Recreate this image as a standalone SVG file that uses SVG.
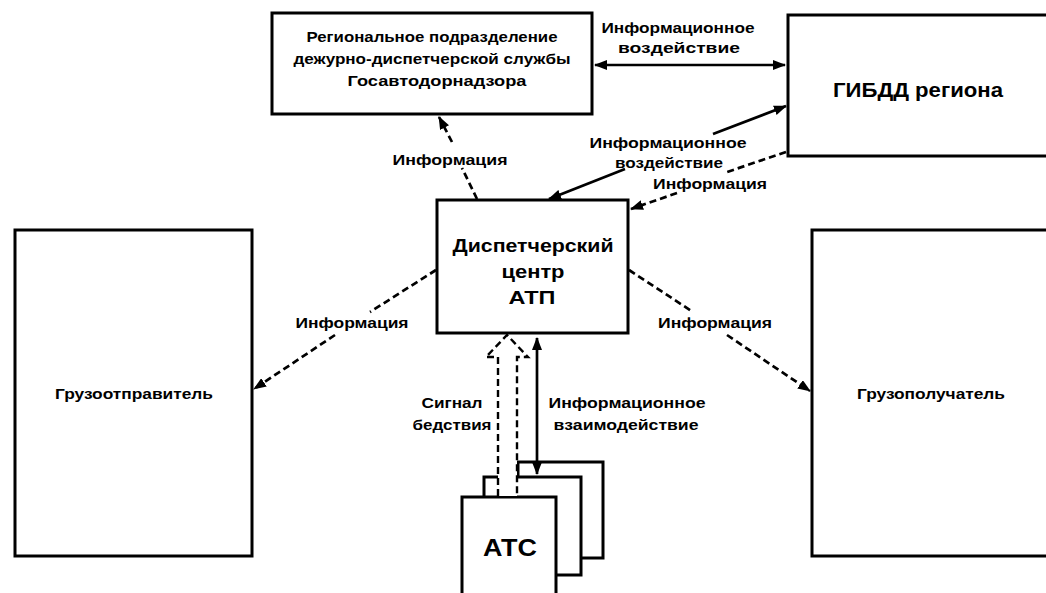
<svg xmlns="http://www.w3.org/2000/svg" width="1046" height="593" viewBox="0 0 1046 593">
<style>
.box{fill:#fff;stroke:#000;stroke-width:3}
.t{font-family:"Liberation Sans",Arial,sans-serif;font-weight:bold;text-anchor:middle;fill:#000}
.s{font-size:14px}
.m{font-size:15px}
.solid{stroke:#000;stroke-width:2.7;fill:none}
.dash{stroke:#000;stroke-width:2.7;fill:none;stroke-dasharray:7 4}
</style>
<defs>
<marker id="ah" markerUnits="userSpaceOnUse" markerWidth="13" markerHeight="10" refX="12" refY="5" orient="auto-start-reverse">
<path d="M0,0 L13,5 L0,10 z" fill="#000"/>
</marker>
</defs>
<rect width="1046" height="593" fill="#fff"/>

<g id="node-regional">
<rect class="box" x="272" y="13" width="320" height="101"/>
<text class="t s" x="432" y="42" textLength="251" lengthAdjust="spacingAndGlyphs">Региональное подразделение</text>
<text class="t s" x="432" y="64" textLength="277" lengthAdjust="spacingAndGlyphs">дежурно-диспетчерской службы</text>
<text class="t s" x="437" y="86" textLength="179" lengthAdjust="spacingAndGlyphs">Госавтодорнадзора</text>
</g>

<g id="node-gibdd">
<rect class="box" x="788" y="15" width="270" height="141"/>
<text class="t" style="font-size:20px" x="918" y="97" textLength="170" lengthAdjust="spacingAndGlyphs">ГИБДД региона</text>
</g>

<g id="node-center">
<rect class="box" x="437" y="200" width="191" height="133"/>
<text class="t" style="font-size:19px" x="533" y="252" textLength="161" lengthAdjust="spacingAndGlyphs">Диспетчерский</text>
<text class="t" style="font-size:19px" x="533" y="278" textLength="63" lengthAdjust="spacingAndGlyphs">центр</text>
<text class="t" style="font-size:19px" x="532" y="304" textLength="47" lengthAdjust="spacingAndGlyphs">АТП</text>
</g>

<g id="node-sender">
<rect class="box" x="15" y="230" width="237" height="326"/>
<text class="t m" x="134" y="399" textLength="158" lengthAdjust="spacingAndGlyphs">Грузоотправитель</text>
</g>

<g id="node-receiver">
<rect class="box" x="812" y="230" width="246" height="326"/>
<text class="t m" x="931" y="399" textLength="148" lengthAdjust="spacingAndGlyphs">Грузополучатель</text>
</g>

<g id="node-atc">
<rect class="box" x="518" y="462" width="85" height="96"/>
<rect class="box" x="484" y="477" width="97" height="98"/>
<rect class="box" x="462" y="497" width="94" height="110"/>
<text class="t" style="font-size:24px" x="510" y="556" textLength="54" lengthAdjust="spacingAndGlyphs">АТС</text>
</g>

<g id="connectors">
<line class="solid" x1="595" y1="65" x2="785" y2="65" marker-start="url(#ah)" marker-end="url(#ah)"/>
<line class="solid" x1="713" y1="134" x2="786" y2="106" marker-end="url(#ah)"/>
<line class="solid" x1="625" y1="169" x2="549" y2="199" marker-end="url(#ah)"/>
<line class="dash" x1="786" y1="152" x2="727" y2="172"/>
<line class="dash" x1="677" y1="193" x2="631" y2="209" marker-end="url(#ah)"/>
<line class="dash" x1="452" y1="142" x2="439" y2="117" marker-end="url(#ah)"/>
<line class="dash" x1="477" y1="199" x2="462" y2="168"/>
<line class="dash" x1="436" y1="270" x2="370" y2="312"/>
<line class="dash" x1="335" y1="335" x2="254" y2="389" marker-end="url(#ah)"/>
<line class="dash" x1="629" y1="270" x2="693" y2="312"/>
<line class="dash" x1="727" y1="335" x2="810" y2="391" marker-end="url(#ah)"/>
<line class="solid" x1="537" y1="338" x2="537" y2="474" marker-start="url(#ah)" marker-end="url(#ah)"/>
<path d="M498,496 L498,357 L486,357 L507,335 L528,357 L517,357 L517,496 z" fill="#fff" stroke="none"/>
<path class="dash" style="stroke-width:2.4" d="M498,496 L498,357 L486,357 L507,335 L528,357 L517,357 L517,496"/>
</g>

<g id="labels">
<text class="t s" x="678" y="33" textLength="153" lengthAdjust="spacingAndGlyphs">Информационное</text>
<text class="t s" x="679" y="53" textLength="122" lengthAdjust="spacingAndGlyphs">воздействие</text>
<text class="t s" x="450" y="165" textLength="115" lengthAdjust="spacingAndGlyphs">Информация</text>
<text class="t s" x="668" y="148" textLength="157" lengthAdjust="spacingAndGlyphs">Информационное</text>
<text class="t s" x="669" y="168" textLength="108" lengthAdjust="spacingAndGlyphs">воздействие</text>
<text class="t s" x="710" y="189" textLength="114" lengthAdjust="spacingAndGlyphs">Информация</text>
<text class="t s" x="352" y="328" textLength="113" lengthAdjust="spacingAndGlyphs">Информация</text>
<text class="t s" x="715" y="328" textLength="114" lengthAdjust="spacingAndGlyphs">Информация</text>
<text class="t s" x="452" y="408" textLength="61" lengthAdjust="spacingAndGlyphs">Сигнал</text>
<text class="t s" x="452" y="430" textLength="79" lengthAdjust="spacingAndGlyphs">бедствия</text>
<text class="t s" x="627" y="408" textLength="157" lengthAdjust="spacingAndGlyphs">Информационное</text>
<text class="t s" x="626" y="430" textLength="145" lengthAdjust="spacingAndGlyphs">взаимодействие</text>
</g>
</svg>
